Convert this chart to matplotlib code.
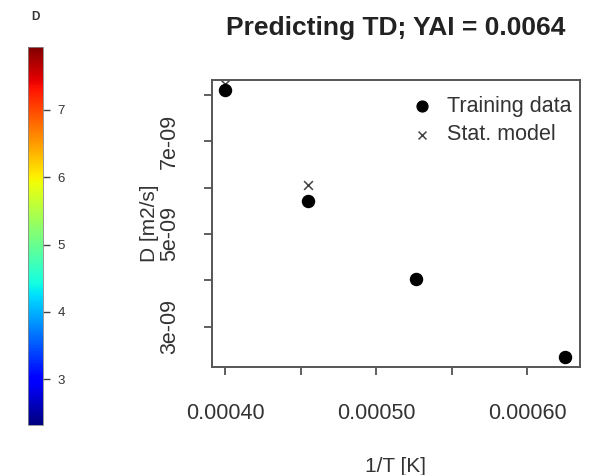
import matplotlib
matplotlib.use("Agg")
import matplotlib.pyplot as plt
from matplotlib import cm, colors

plt.rcParams['font.family'] = ['Liberation Sans', 'DejaVu Sans']

# Data
inv_T = [0.000400, 0.000455, 0.000526, 0.000625]        # 1/T [K]
D_train = [8.09e-09, 5.72e-09, 4.03e-09, 2.35e-09]      # training data
D_model = [8.24e-09, 6.06e-09, 4.03e-09, 2.35e-09]      # statistical model
x_ticks = [0.00040, 0.00045, 0.00050, 0.00055, 0.00060]
x_labels = ["0.00040", "", "0.00050", "", "0.00060"]
y_ticks = [3e-09, 4e-09, 5e-09, 6e-09, 7e-09, 8e-09]
y_labels = ["3e-09", "", "5e-09", "", "7e-09", ""]
cbar_min, cbar_max = 2.32, 7.94
cbar_ticks = [3, 4, 5, 6, 7]

fig = plt.figure(figsize=(5.9, 4.75), dpi=100)

# Main scatter panel
ax = fig.add_axes([0.359, 0.228, 0.624, 0.604])
ax.scatter(inv_T, D_model, marker='x', s=40, color='#444444', linewidths=1.1,
           label='Stat. model', zorder=2)
ax.scatter(inv_T, D_train, marker='o', s=75, color='black',
           label='Training data', zorder=3)

ax.set_xlim(0.000391, 0.000635)
ax.set_ylim(2.14e-09, 8.32e-09)
ax.set_xticks(x_ticks)
ax.set_xticklabels(x_labels)
ax.set_yticks(y_ticks)
ax.set_yticklabels(y_labels, rotation=90, va='center')
ax.tick_params(axis='both', length=6, width=1.2, color='#444444',
               labelsize=15.5, labelcolor='#333333')
ax.tick_params(axis='x', pad=20)
ax.tick_params(axis='y', pad=17)
for s in ax.spines.values():
    s.set_color('#555555')
    s.set_linewidth(1.4)

ax.set_xlabel("1/T [K]", fontsize=15, color='#333333', labelpad=24)
ax.set_ylabel("D [m2/s]", fontsize=15, color='#333333', labelpad=0)
ax.set_title("Predicting TD; YAI = 0.0064", fontsize=19, fontweight='bold',
             color='#222222', pad=32)

handles, labels = ax.get_legend_handles_labels()
ax.legend(handles[::-1], labels[::-1], loc='upper right',
          bbox_to_anchor=(1.0, 0.975), frameon=False,
          fontsize=15.5, labelcolor='#333333', handletextpad=0.15,
          borderaxespad=0.0, labelspacing=0.36, markerscale=0.9)

# Colour bar on the left
cax = fig.add_axes([0.0475, 0.105, 0.0254, 0.797])
norm = colors.Normalize(vmin=cbar_min, vmax=cbar_max)
cb = fig.colorbar(cm.ScalarMappable(norm=norm, cmap='jet'), cax=cax)
cb.set_ticks(cbar_ticks)
cb.ax.tick_params(labelsize=9.5, length=5, width=1, color='#444444',
                  labelcolor='#333333', pad=5.5)
cb.outline.set_edgecolor('#888888')
cb.outline.set_linewidth(0.6)
fig.text(0.0593, 0.964, "D", fontsize=8.5, fontweight='bold', ha='center',
         va='center', color='#333333')

fig.savefig("out.png", dpi=100)
